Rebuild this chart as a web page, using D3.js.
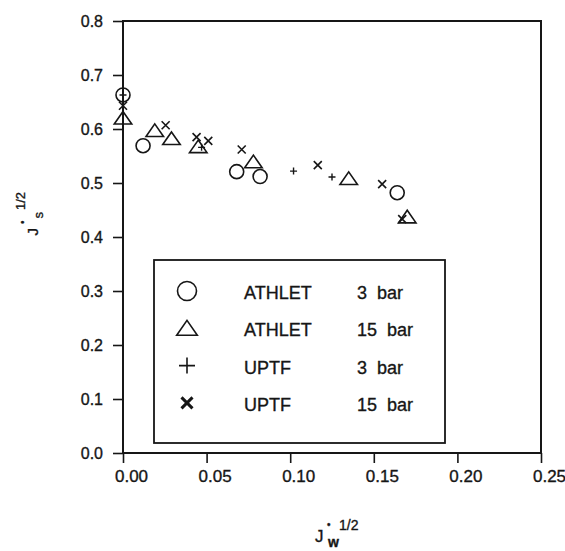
<!DOCTYPE html>
<html>
<head>
<meta charset="utf-8">
<script src="https://d3js.org/d3.v7.min.js"></script>
<style>
    body { margin: 0; background: #fff; }
    svg { display: block; font-family: "Liberation Sans", Arial, sans-serif; }
    svg text { stroke: #161616; stroke-width: 0.35px; }
</style>
</head>
<body>
<div id="chart"></div>
<script>
// values: [J_w*^1/2, J_s*^1/2]
const athlet3bar = [[0.000, 0.663], [0.012, 0.569], [0.068, 0.521], [0.082, 0.512], [0.164, 0.482]];
const athlet15bar = [[0.000, 0.617], [0.019, 0.594], [0.029, 0.579], [0.045, 0.564], [0.078, 0.536], [0.135, 0.505], [0.170, 0.434]];
const uptf3bar = [[0.000, 0.663], [0.047, 0.566], [0.102, 0.522], [0.125, 0.511]];
const uptf15bar = [[0.000, 0.643], [0.0255, 0.607], [0.044, 0.585], [0.051, 0.578], [0.071, 0.562], [0.1165, 0.533], [0.155, 0.498], [0.167, 0.433]];

const seriesNames = ["ATHLET", "ATHLET", "UPTF", "UPTF"];
const seriesPressures = ["3 bar", "15 bar", "3 bar", "15 bar"];
const seriesSymbols = ["circle", "triangle", "plus", "cross"];

const xTicks = [0, 0.05, 0.10, 0.15, 0.20, 0.25];
const yTicks = [0, 0.1, 0.2, 0.3, 0.4, 0.5, 0.6, 0.7, 0.8];

class ScatterChart {
    constructor(series, config) {
        this.series = series;
        this.config = {
            parentElement: config?.parentElement || 'body',
            width: config?.width || 565,
            height: config?.height || 551,
            left: 123, right: 541, top: 21, bottom: 453,
            ink: "#161616"
        };
        this.initViz();
    }

    // marker outline as a path string, size given in px
    symbolPath(type, s) {
        if (type === "circle") {
            return `M${s},0A${s},${s} 0 1,1 ${-s},0A${s},${s} 0 1,1 ${s},0Z`;
        }
        if (type === "triangle") {
            const w = s * 1.25, h = s * 0.9;
            return `M0,${-h * 2 / 3}L${w / 2},${h / 3}L${-w / 2},${h / 3}Z`;
        }
        if (type === "plus") {
            return `M${-s / 2},0H${s / 2}M0,${-s / 2}V${s / 2}`;
        }
        return `M${-s / 2},${-s / 2}L${s / 2},${s / 2}M${s / 2},${-s / 2}L${-s / 2},${s / 2}`;
    }

    initViz() {
        const that = this;
        const c = that.config;

        that.svg = d3.select(c.parentElement).append("svg")
            .attr("width", c.width)
            .attr("height", c.height);

        that.x = d3.scaleLinear().domain([0, 0.25]).range([c.left, c.right]);
        that.y = d3.scaleLinear().domain([0, 0.8]).range([c.bottom, c.top]);

        // frame
        that.svg.append("rect")
            .attr("x", c.left).attr("y", c.top)
            .attr("width", c.right - c.left).attr("height", c.bottom - c.top)
            .style("fill", "none").style("stroke", c.ink).style("stroke-width", 2);

        // axes
        const xAxis = that.svg.append("g")
            .attr("transform", `translate(0,${c.bottom})`)
            .call(d3.axisBottom(that.x).tickValues(xTicks).tickFormat(d3.format(".2f")).tickSize(10).tickPadding(7));
        xAxis.selectAll("text").attr("dx", 8).style("font-size", "17px");

        const yAxis = that.svg.append("g")
            .attr("transform", `translate(${c.left},0)`)
            .call(d3.axisLeft(that.y).tickValues(yTicks).tickFormat(d3.format(".1f")).tickSize(10).tickPadding(10));
        yAxis.selectAll("text").style("font-size", "16px");

        [xAxis, yAxis].forEach(a => {
            a.select(".domain").remove();
            a.selectAll("line").style("stroke", c.ink).style("stroke-width", 1.6);
            a.selectAll("text").style("fill", c.ink).style("font-family", "'Liberation Sans', Arial, sans-serif");
        });

        // markers
        const sizes = { circle: 7, triangle: 14, plus: 7, cross: 8 };
        that.series.forEach((pts, i) => {
            const type = seriesSymbols[i];
            that.svg.append("g").selectAll("path")
                .data(pts)
                .join("path")
                .attr("transform", d => `translate(${that.x(d[0])},${that.y(d[1])})`)
                .attr("d", that.symbolPath(type, sizes[type]))
                .style("fill", "none")
                .style("stroke", c.ink)
                .style("stroke-width", type === "plus" ? 1.4 : 1.6);
        });

        // legend
        const lg = that.svg.append("g");
        lg.append("rect")
            .attr("x", 154).attr("y", 260).attr("width", 291).attr("height", 183)
            .style("fill", "#fff").style("stroke", c.ink).style("stroke-width", 1.8);

        const legendSizes = { circle: 9.5, triangle: 16.5, plus: 16, cross: 11 };
        const rows = lg.selectAll(".row")
            .data(seriesNames)
            .join("g")
            .attr("class", "row")
            .attr("transform", (d, i) => `translate(0,${299 + i * 37.3})`);

        rows.append("path")
            .attr("transform", (d, i) => `translate(187,${seriesSymbols[i] === "triangle" ? -6 : -8})`)
            .attr("d", (d, i) => that.symbolPath(seriesSymbols[i], legendSizes[seriesSymbols[i]]))
            .style("fill", "none")
            .style("stroke", c.ink)
            .style("stroke-width", (d, i) => seriesSymbols[i] === "cross" ? 3 : 1.6);

        rows.append("text")
            .attr("x", 244)
            .style("font-size", "18px")
            .style("fill", c.ink)
            .text(d => d);

        rows.append("text")
            .attr("x", 357)
            .style("font-size", "18px")
            .style("word-spacing", "5px")
            .style("fill", c.ink)
            .text((d, i) => seriesPressures[i]);

        // y axis title J*_s^1/2, rotated
        const yt = that.svg.append("g")
            .attr("transform", "translate(38,235.5) rotate(-90)")
            .style("fill", c.ink);
        yt.append("text").attr("x", 0).attr("y", 0).style("font-size", "15px").text("J");
        yt.append("text").attr("x", 11.5).attr("y", -12.5).style("font-size", "10px").text("•");
        yt.append("text").attr("x", 17).attr("y", 5).style("font-size", "13px").text("s");
        yt.append("text").attr("x", 25.5).attr("y", -13).style("font-size", "13px").text("1/2");

        // x axis title J*_w^1/2
        const xt = that.svg.append("g").style("fill", c.ink);
        xt.append("text").attr("x", 315).attr("y", 542).style("font-size", "17px").text("J");
        xt.append("text").attr("x", 327).attr("y", 528).style("font-size", "10px").text("•");
        xt.append("text").attr("x", 328).attr("y", 547).style("font-size", "14px").style("font-weight", "bold").text("w");
        xt.append("text").attr("x", 339).attr("y", 530).style("font-size", "14px").text("1/2");
    }
}

new ScatterChart([athlet3bar, athlet15bar, uptf3bar, uptf15bar], { parentElement: "#chart" });
</script>
</body>
</html>
